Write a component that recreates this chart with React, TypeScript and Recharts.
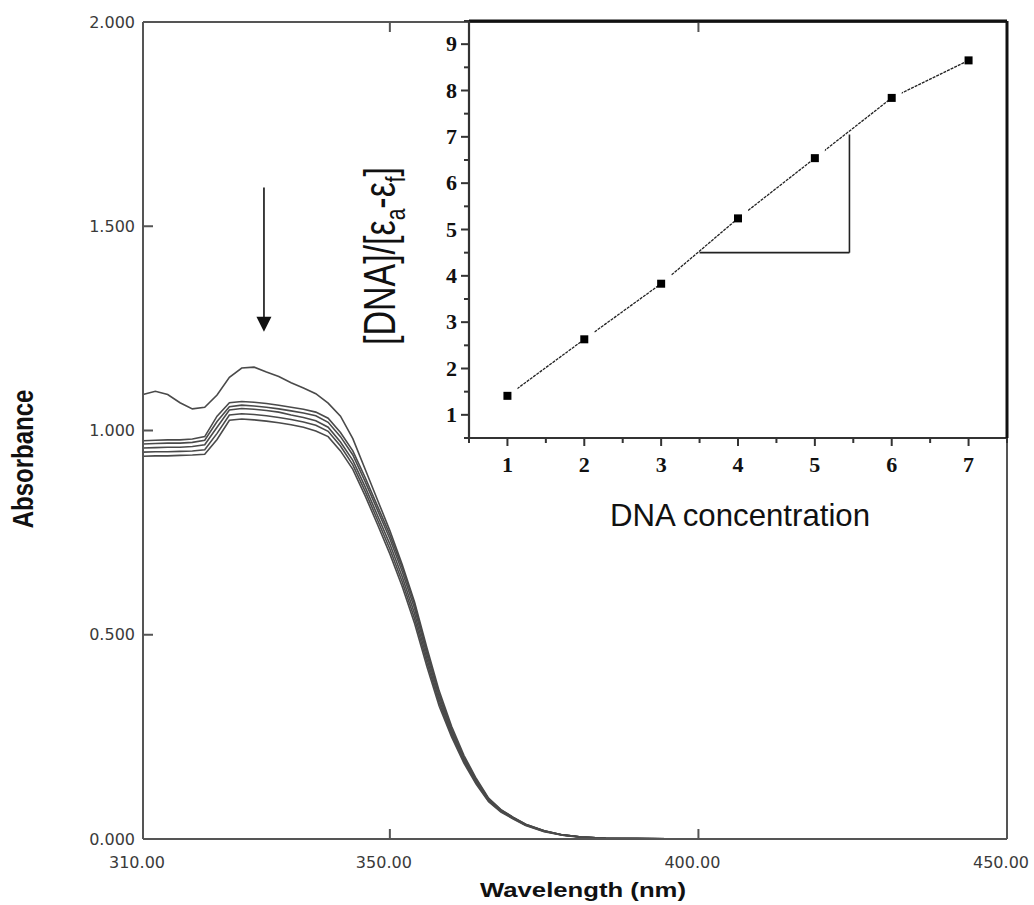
import React from 'react';
import { LineChart, Line, XAxis, YAxis, ReferenceLine, ReferenceDot, Label } from 'recharts';

// main spectra: absorbance vs wavelength, one array per titration step
const WAVELENGTH = [
  310, 312, 314, 316, 318, 320, 322, 324, 326, 328, 330, 332, 334, 336, 338, 340, 342, 344, 346, 348,
  350, 352, 354, 356, 358, 360, 362, 364, 366, 368, 370, 372, 375, 378, 381, 385, 390, 400, 425, 450,
];
const ABS_A = [
  1.088, 1.096, 1.088, 1.068, 1.053, 1.057, 1.087, 1.13, 1.153, 1.155, 1.143, 1.132, 1.117, 1.104, 1.09, 1.067, 1.035, 0.98, 0.905, 0.83,
  0.755, 0.672, 0.58, 0.468, 0.362, 0.276, 0.205, 0.148, 0.1, 0.072, 0.053, 0.036, 0.02, 0.01, 0.005, 0.002, 0.001, 0, 0, 0,
];
const ABS_B = [
  0.975, 0.976, 0.977, 0.977, 0.979, 0.985, 1.035, 1.068, 1.071, 1.069, 1.066, 1.062, 1.057, 1.052, 1.045, 1.03, 0.995, 0.95, 0.885, 0.815,
  0.745, 0.665, 0.575, 0.46, 0.355, 0.27, 0.2, 0.145, 0.098, 0.071, 0.053, 0.036, 0.02, 0.01, 0.005, 0.002, 0.001, 0, 0, 0,
];
const ABS_C = [
  0.967, 0.968, 0.969, 0.969, 0.971, 0.976, 1.022, 1.058, 1.062, 1.06, 1.057, 1.053, 1.048, 1.043, 1.036, 1.02, 0.985, 0.94, 0.875, 0.805,
  0.735, 0.655, 0.565, 0.452, 0.348, 0.265, 0.197, 0.142, 0.097, 0.07, 0.052, 0.035, 0.02, 0.01, 0.005, 0.002, 0.001, 0, 0, 0,
];
const ABS_D = [
  0.957, 0.958, 0.959, 0.959, 0.961, 0.965, 1.008, 1.05, 1.054, 1.052, 1.049, 1.045, 1.038, 1.032, 1.024, 1.008, 0.972, 0.927, 0.862, 0.792,
  0.722, 0.642, 0.552, 0.442, 0.34, 0.26, 0.194, 0.14, 0.095, 0.069, 0.051, 0.034, 0.019, 0.01, 0.005, 0.002, 0.001, 0, 0, 0,
];
const ABS_E = [
  0.947, 0.948, 0.948, 0.949, 0.95, 0.953, 0.993, 1.038, 1.041, 1.039, 1.036, 1.032, 1.027, 1.021, 1.013, 0.998, 0.962, 0.916, 0.851, 0.781,
  0.71, 0.63, 0.54, 0.432, 0.333, 0.255, 0.19, 0.137, 0.093, 0.068, 0.05, 0.034, 0.019, 0.009, 0.005, 0.002, 0.001, 0, 0, 0,
];
const ABS_F = [
  0.937, 0.938, 0.938, 0.939, 0.94, 0.942, 0.978, 1.025, 1.028, 1.026, 1.023, 1.019, 1.014, 1.008, 0.999, 0.985, 0.95, 0.905, 0.84, 0.77,
  0.698, 0.618, 0.528, 0.422, 0.325, 0.25, 0.186, 0.134, 0.091, 0.066, 0.049, 0.033, 0.018, 0.009, 0.004, 0.002, 0.001, 0, 0, 0,
];
const SERIES_KEYS = ['a', 'b', 'c', 'd', 'e', 'f'];
const MAIN_X_TICKS = [310, 350, 400, 450];
const MAIN_Y_TICKS = [0, 0.5, 1, 1.5, 2];

// arrow showing hypochromism (wavelength, absorbance)
const ARROW_X = 329.6;
const ARROW_TOP = 1.595;
const ARROW_TIP = 1.242;

// inset: [DNA]/(εa-εf) vs DNA concentration
const DNA_CONC = [1, 2, 3, 4, 5, 6, 7];
const DNA_RATIO = [1.41, 2.63, 3.83, 5.24, 6.54, 7.84, 8.65];
const INSET_X_TICKS = [0.5, 1, 1.5, 2, 2.5, 3, 3.5, 4, 4.5, 5, 5.5, 6, 6.5, 7, 7.5];
const INSET_Y_TICKS = [0.5, 1, 1.5, 2, 2.5, 3, 3.5, 4, 4.5, 5, 5.5, 6, 6.5, 7, 7.5, 8, 8.5, 9, 9.5];
const SLOPE_X = [3.5, 5.45];
const SLOPE_Y = [4.5, 7.05];

const spectra = WAVELENGTH.map((w, i) => ({
  w,
  a: ABS_A[i],
  b: ABS_B[i],
  c: ABS_C[i],
  d: ABS_D[i],
  e: ABS_E[i],
  f: ABS_F[i],
}));

const inset = DNA_CONC.map((c, i) => ({ c, ratio: DNA_RATIO[i] }));

const AXIS_GREY = '#555';
const tickFont = { fill: '#3a3a3a', fontSize: 16, fontFamily: 'DejaVu Sans' };

const ArrowHead = (props: any) => {
  const { cx, cy } = props;
  return <polygon points={`${cx - 7.5},${cy - 15} ${cx + 7.5},${cy - 15} ${cx},${cy}`} fill="#111" />;
};

const SquareDot = (props: any) => {
  const { cx, cy, index } = props;
  return (
    <g key={`sq-${index}`}>
      <rect x={cx - 2} y={cy - 10} width={12} height={12} fill="#fff" />
      <rect x={cx - 4} y={cy - 4} width={8} height={8} fill="#000" />
    </g>
  );
};

const InsetXTick = (props: any) => {
  const { x, y, payload } = props;
  const major = Number.isInteger(payload.value) && payload.value > 0;
  return (
    <g>
      <line x1={x} x2={x} y1={y} y2={y + (major ? 8 : 5)} stroke="#333" strokeWidth={2} />
      {major && (
        <text x={x} y={y + 34} textAnchor="middle" fontSize={22} fontWeight="bold" fontFamily="Liberation Serif" fill="#111">
          {payload.value}
        </text>
      )}
    </g>
  );
};

const InsetYTick = (props: any) => {
  const { x, y, payload } = props;
  const major = Number.isInteger(payload.value);
  return (
    <g>
      <line x1={x - (major ? 8 : 5)} x2={x} y1={y} y2={y} stroke="#333" strokeWidth={2} />
      {major && (
        <text x={x - 12} y={y + 7} textAnchor="end" fontSize={22} fontWeight="bold" fontFamily="Liberation Serif" fill="#111">
          {payload.value}
        </text>
      )}
    </g>
  );
};

export default function App() {
  return (
    <div style={{ position: 'absolute', left: 0, top: 0, width: 1034, height: 905, background: '#fff' }}>
      <div style={{ position: 'absolute', left: 0, top: 0 }}>
        <LineChart width={1034} height={905} data={spectra} margin={{ top: 0, right: 0, bottom: 0, left: 0 }}>
          <XAxis
            dataKey="w"
            type="number"
            domain={[310, 450]}
            ticks={MAIN_X_TICKS}
            interval={0}
            tickFormatter={(v) => v.toFixed(2)}
            height={66}
            tickSize={-10}
            tickMargin={28}
            tick={{ ...tickFont, dx: -6 }}
            axisLine={{ stroke: AXIS_GREY, strokeWidth: 2 }}
            tickLine={{ stroke: AXIS_GREY, strokeWidth: 2 }}
          >
            <Label
              content={() => (
                <text
                  x={583}
                  y={897}
                  textAnchor="middle"
                  fontSize={21}
                  fontWeight="bold"
                  fontFamily="Liberation Sans"
                  fill="#111"
                  textLength={206}
                  lengthAdjust="spacingAndGlyphs"
                >
                  Wavelength (nm)
                </text>
              )}
            />
          </XAxis>
          <XAxis
            xAxisId="top"
            orientation="top"
            dataKey="w"
            type="number"
            domain={[310, 450]}
            ticks={MAIN_X_TICKS}
            interval={0}
            tickFormatter={() => ''}
            height={22}
            tickSize={-10}
            axisLine={{ stroke: AXIS_GREY, strokeWidth: 2 }}
            tickLine={{ stroke: AXIS_GREY, strokeWidth: 2 }}
          />
          <YAxis
            type="number"
            domain={[0, 2]}
            ticks={MAIN_Y_TICKS}
            interval={0}
            tickFormatter={(v) => v.toFixed(3)}
            width={143}
            tickSize={-10}
            tickMargin={18}
            tick={tickFont}
            axisLine={{ stroke: AXIS_GREY, strokeWidth: 2 }}
            tickLine={{ stroke: AXIS_GREY, strokeWidth: 2 }}
          >
            <Label
              content={() => (
                <text
                  transform="translate(33,459) scale(1.22,1) rotate(-90)"
                  x={0}
                  y={0}
                  textAnchor="middle"
                  fontSize={24}
                  fontWeight="bold"
                  fontFamily="Liberation Sans"
                  fill="#111"
                >
                  Absorbance
                </text>
              )}
            />
          </YAxis>
          <YAxis
            yAxisId="right"
            orientation="right"
            type="number"
            domain={[0, 2]}
            ticks={MAIN_Y_TICKS}
            interval={0}
            tickFormatter={() => ''}
            width={27}
            tickSize={-10}
            axisLine={{ stroke: AXIS_GREY, strokeWidth: 2 }}
            tickLine={{ stroke: AXIS_GREY, strokeWidth: 2 }}
          />
          {SERIES_KEYS.map((k) => (
            <Line
              key={k}
              type="linear"
              dataKey={k}
              stroke="#4a4a4a"
              strokeWidth={1.6}
              dot={false}
              activeDot={false}
              isAnimationActive={false}
            />
          ))}
          <ReferenceLine
            segment={[
              { x: ARROW_X, y: ARROW_TOP },
              { x: ARROW_X, y: ARROW_TIP + 0.03 },
            ]}
            stroke="#111"
            strokeWidth={1.6}
          />
          <ReferenceDot x={ARROW_X} y={ARROW_TIP} r={1} shape={ArrowHead} />
        </LineChart>
      </div>

      <div style={{ position: 'absolute', left: 340, top: 0 }}>
        <LineChart width={694} height={540} data={inset} margin={{ top: 0, right: 0, bottom: 0, left: 0 }}>
          <XAxis
            dataKey="c"
            type="number"
            domain={[0.5, 7.5]}
            ticks={INSET_X_TICKS}
            interval={0}
            height={102}
            tickSize={0}
            tickMargin={0}
            tickLine={false}
            tick={InsetXTick}
            axisLine={{ stroke: '#333', strokeWidth: 2.2 }}
          >
            <Label
              content={() => (
                <text
                  x={400}
                  y={526}
                  textAnchor="middle"
                  fontSize={32}
                  fontFamily="Liberation Sans"
                  fill="#111"
                  textLength={260}
                  lengthAdjust="spacingAndGlyphs"
                >
                  DNA concentration
                </text>
              )}
            />
          </XAxis>
          <XAxis
            xAxisId="top"
            orientation="top"
            dataKey="c"
            type="number"
            domain={[0.5, 7.5]}
            height={21}
            tick={false}
            tickLine={false}
            axisLine={{ stroke: '#111', strokeWidth: 3 }}
          />
          <YAxis
            type="number"
            domain={[0.5, 9.5]}
            ticks={INSET_Y_TICKS}
            interval={0}
            width={129}
            tickSize={0}
            tickMargin={0}
            tickLine={false}
            tick={InsetYTick}
            axisLine={{ stroke: '#333', strokeWidth: 2.2 }}
          >
            <Label
              content={() => (
                <text
                  transform="translate(55,256) scale(1.3,1) rotate(-90)"
                  x={0}
                  y={0}
                  textAnchor="middle"
                  fontSize={34}
                  fontFamily="Liberation Sans"
                  fill="#111"
                >
                  [DNA]/[ε
                  <tspan fontSize={21} dy={8}>
                    a
                  </tspan>
                  <tspan dy={-8}>-ε</tspan>
                  <tspan fontSize={21} dy={8}>
                    f
                  </tspan>
                  <tspan dy={-8}>]</tspan>
                </text>
              )}
            />
          </YAxis>
          <YAxis
            yAxisId="right"
            orientation="right"
            type="number"
            domain={[0.5, 9.5]}
            width={27}
            tick={false}
            tickLine={false}
            axisLine={{ stroke: '#111', strokeWidth: 3 }}
          />
          <ReferenceLine
            segment={[
              { x: SLOPE_X[0], y: SLOPE_Y[0] },
              { x: SLOPE_X[1], y: SLOPE_Y[0] },
            ]}
            stroke="#222"
            strokeWidth={1.6}
          />
          <ReferenceLine
            segment={[
              { x: SLOPE_X[1], y: SLOPE_Y[0] },
              { x: SLOPE_X[1], y: SLOPE_Y[1] },
            ]}
            stroke="#222"
            strokeWidth={1.6}
          />
          <Line
            type="linear"
            dataKey="ratio"
            stroke="#222"
            strokeWidth={1.3}
            strokeDasharray="3 1"
            dot={SquareDot}
            activeDot={false}
            isAnimationActive={false}
          />
        </LineChart>
      </div>
    </div>
  );
}
